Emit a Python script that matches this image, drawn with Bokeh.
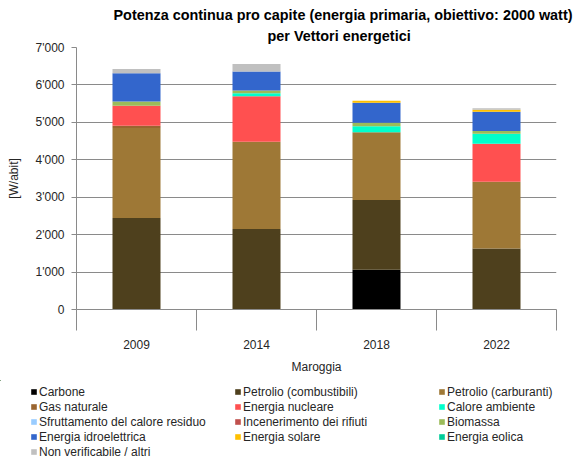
import numpy as np
from bokeh.plotting import figure
from bokeh.layouts import column
from bokeh.models import Range1d, FixedTicker, Legend, LegendItem, ColumnDataSource, Title
from bokeh.embed import file_html
from bokeh.resources import INLINE

# ---------------- data ----------------
years = ["2009", "2014", "2018", "2022"]
location_name = "Maroggia"
title_lines = ["Potenza continua pro capite (energia primaria, obiettivo: 2000 watt)",
               "per Vettori energetici"]

carriers = ["Carbone", "Petrolio (combustibili)", "Petrolio (carburanti)",
            "Gas naturale", "Energia nucleare", "Calore ambiente",
            "Sfruttamento del calore residuo", "Incenerimento dei rifiuti", "Biomassa",
            "Energia idroelettrica", "Energia solare", "Energia eolica",
            "Non verificabile / altri"]
colors = ["#000000", "#4E401D", "#9E7836",
          "#9A6530", "#FF5050", "#00FFCC",
          "#99CCFF", "#C0504D", "#9BBB59",
          "#3366CC", "#FFC000", "#00CC99",
          "#C0C0C0"]

carbone = [0, 0, 1061, 0]
petrolio_combustibili = [2444, 2150, 1864, 1631]
petrolio_carburanti = [2406, 2334, 1808, 1783]
gas_naturale = [62, 0, 0, 0]
energia_nucleare = [535, 1212, 0, 1016]
calore_ambiente = [0, 80, 160, 268]
calore_residuo = [0, 0, 0, 0]
incenerimento_rifiuti = [0, 0, 0, 0]
biomassa = [107, 73, 99, 72]
energia_idroelettrica = [756, 508, 535, 516]
energia_solare = [0, 0, 53, 50]
energia_eolica = [0, 0, 0, 0]
non_verificabile = [118, 205, 0, 38]

y_ticks = [0, 1000, 2000, 3000, 4000, 5000, 6000, 7000]
y_tick_labels = ["0", "1'000", "2'000", "3'000", "4'000", "5'000", "6'000", "7'000"]

series = [carbone, petrolio_combustibili, petrolio_carburanti, gas_naturale,
          energia_nucleare, calore_ambiente, calore_residuo, incenerimento_rifiuti,
          biomassa, energia_idroelettrica, energia_solare, energia_eolica,
          non_verificabile]

# ---------------- build ----------------
keys = [f"s{i}" for i in range(len(series))]
x_pos = list(np.arange(len(years)) + 0.5)
data = {"x": x_pos}
for k, s in zip(keys, series):
    data[k] = s
source = ColumnDataSource(data)

FONT = "Liberation Sans"
TXT = "#262626"
GRID = "#8A8A8A"

p = figure(width=585, height=380, output_backend="svg", toolbar_location=None,
           x_range=Range1d(0, len(years)), y_range=Range1d(0, 7000),
           min_border_left=76, min_border_right=29, min_border_top=47,
           min_border_bottom=71, title=None)
p.outline_line_color = None

renderers = p.vbar_stack(keys, x="x", width=0.4, color=colors, source=source,
                         line_color=None)

# title (two lines)
t2 = Title(text=title_lines[1], align="left", offset=191, text_font=FONT,
           text_font_size="14.4px", text_font_style="bold", text_color="#000000",
           standoff=8)
t1 = Title(text=title_lines[0], align="left", offset=37, text_font=FONT,
           text_font_size="14.4px", text_font_style="bold", text_color="#000000",
           standoff=-3)
p.add_layout(t2, "above")
p.add_layout(t1, "above")

# y axis
ya = p.yaxis[0]
ya.ticker = FixedTicker(ticks=y_ticks)
ya.major_label_overrides = {t: l for t, l in zip(y_ticks, y_tick_labels)}
ya.major_tick_out = 5
ya.major_tick_in = 0
ya.minor_tick_out = 0
ya.minor_tick_in = 0
ya.major_tick_line_color = GRID
ya.axis_line_color = GRID
ya.major_label_text_font = FONT
ya.major_label_text_font_size = "12px"
ya.major_label_text_color = TXT
ya.major_label_standoff = 7
ya.axis_label = "[W/abit]"
ya.axis_label_text_font = FONT
ya.axis_label_text_font_size = "12px"
ya.axis_label_text_font_style = "normal"
ya.axis_label_text_color = TXT
ya.axis_label_standoff = 12

# x axis
xa = p.xaxis[0]
xa.ticker = FixedTicker(ticks=x_pos, minor_ticks=list(range(len(years) + 1)))
xa.major_label_overrides = {float(x): y for x, y in zip(x_pos, years)}
xa.major_tick_out = 0
xa.major_tick_in = 0
xa.minor_tick_out = 21
xa.minor_tick_in = 0
xa.minor_tick_line_color = GRID
xa.axis_line_color = GRID
xa.major_label_text_font = FONT
xa.major_label_text_font_size = "12px"
xa.major_label_text_color = TXT
xa.major_label_standoff = 9
xa.axis_label = location_name
xa.axis_label_text_font = FONT
xa.axis_label_text_font_size = "12px"
xa.axis_label_text_font_style = "normal"
xa.axis_label_text_color = TXT
xa.axis_label_standoff = 8

p.xgrid.grid_line_color = None
p.ygrid.ticker = FixedTicker(ticks=y_ticks)
p.ygrid.grid_line_color = GRID
p.ygrid.grid_line_width = 1

# legend in its own strip below the chart (its bars sit far outside the view;
# only the legend swatches are visible)
pl = figure(width=585, height=79, output_backend="svg", toolbar_location=None,
            x_range=Range1d(20, 24), y_range=Range1d(-30000, -20000),
            x_axis_location=None, y_axis_location=None,
            min_border=0, min_border_left=0, min_border_right=0,
            min_border_top=0, min_border_bottom=0, title=None)
pl.outline_line_color = None
pl.xgrid.visible = False
pl.ygrid.visible = False
swatches = pl.vbar_stack(keys, x="x", width=0.4, color=colors, source=source,
                         line_color=None)

leg_x = -46
try:
    p.frame_align = False
    pl.frame_align = False
    leg_x = 30
except Exception:
    pass

items = [LegendItem(label=c, renderers=[r]) for c, r in zip(carriers, swatches)]
legend = Legend(items=items, orientation="horizontal", ncols=3, location=(leg_x, 0))
legend.glyph_width = 7
legend.glyph_height = 7
legend.label_standoff = 2
legend.label_width = 195
legend.label_height = 15
legend.spacing = 0
legend.padding = 0
legend.margin = 0
legend.border_line_color = None
legend.background_fill_alpha = 0
legend.label_text_font = FONT
legend.label_text_font_size = "12px"
legend.label_text_color = TXT
legend.click_policy = "none"
pl.add_layout(legend, "center")

layout = column(p, pl, spacing=0)
open("out.html", "w").write(file_html(layout, INLINE))
